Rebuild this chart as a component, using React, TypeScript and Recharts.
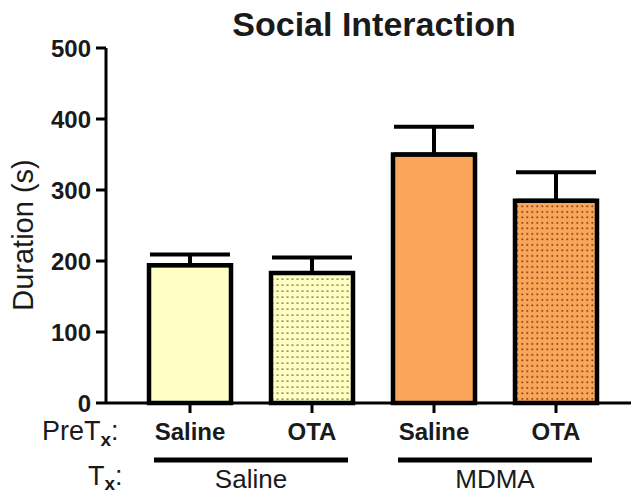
import React from 'react';
import { BarChart, Bar, XAxis, YAxis, ErrorBar, Cell, Customized } from 'recharts';

// Pre-treatment per bar (first x row)
const preTreatments = ['Saline', 'OTA', 'Saline', 'OTA'];
// Treatment per bar (second x row, grouped)
const treatments = ['Saline', 'Saline', 'MDMA', 'MDMA'];
// Mean social interaction duration (s)
const durations = [194, 183, 350, 285];
// SEM (drawn upward only)
const sems = [15, 22, 39, 40];
const yTicks = [0, 100, 200, 300, 400, 500];

const barFills = ['#FFFFC4', 'url(#dotsYellow)', '#F9A65A', 'url(#dotsOrange)'];

const data = preTreatments.map((pre, i) => ({
  pre,
  tx: treatments[i],
  duration: durations[i],
  err: [0, sems[i]],
}));

const FONT = '"Liberation Sans", Arial, Helvetica, sans-serif';
const INK = '#1a1a1a';

const PreTick = (props: any) => {
  const { x, y, payload } = props;
  return (
    <text x={x} y={y + 25} textAnchor="middle" fontFamily={FONT} fontWeight={700} fontSize={24} fill={INK}>
      {payload.value}
    </text>
  );
};

const GroupTick = (props: any) => {
  const { x, y, payload } = props;
  return (
    <g>
      <line x1={x - 97} x2={x + 97} y1={y + 12} y2={y + 12} stroke="#000" strokeWidth={5} />
      <text x={x} y={y + 40} textAnchor="middle" fontFamily={FONT} fontSize={26} fill={INK}>
        {payload.value}
      </text>
    </g>
  );
};

const Decorations = () => (
  <g>
    <defs>
      <pattern id="dotsYellow" width={5} height={6} patternUnits="userSpaceOnUse">
        <rect width={5} height={6} fill="#FFFFC4" />
        <rect x={1.4} y={2.4} width={2.2} height={1.5} fill="#8E8E5E" />
      </pattern>
      <pattern id="dotsOrange" width={5} height={5.5} patternUnits="userSpaceOnUse">
        <rect width={5} height={5.5} fill="#F9A65A" />
        <rect x={1.4} y={2.1} width={1.8} height={1.6} fill="#7E3F14" />
      </pattern>
    </defs>
    <text x={374} y={36} textAnchor="middle" fontFamily={FONT} fontWeight={700} fontSize={34} fill={INK}>
      Social Interaction
    </text>
    <text
      x={33}
      y={235}
      transform="rotate(-90 33 235)"
      textAnchor="middle"
      fontFamily={FONT}
      fontSize={29}
      fill={INK}
    >
      Duration (s)
    </text>
    <text x={42} y={440} fontFamily={FONT} fontSize={27} fill={INK}>
      <tspan>PreT</tspan>
      <tspan fontSize={19} fontWeight={700} dy={6}>x</tspan>
      <tspan dy={-6}>:</tspan>
    </text>
    <text x={88} y={485} fontFamily={FONT} fontSize={27} fill={INK}>
      <tspan>T</tspan>
      <tspan fontSize={19} fontWeight={700} dy={5}>x</tspan>
      <tspan dy={-5}>:</tspan>
    </text>
  </g>
);

export default function App() {
  return (
    <div style={{ position: 'absolute', left: 0, top: 0, width: 631, height: 495, background: '#fff' }}>
      <BarChart width={631} height={495} data={data} margin={{ top: 48, right: 0, bottom: 0, left: 0 }}>
        <Customized component={<Decorations />} />
        <XAxis
          xAxisId="pre"
          dataKey="pre"
          interval={0}
          height={45}
          padding={{ left: 23, right: 14 }}
          axisLine={{ stroke: '#000', strokeWidth: 3 }}
          tickLine={{ stroke: '#000', strokeWidth: 3 }}
          tickSize={10}
          tickMargin={2}
          tick={<PreTick />}
        />
        <XAxis
          xAxisId="tx"
          dataKey="tx"
          allowDuplicatedCategory={false}
          interval={0}
          height={47}
          padding={{ left: 23, right: 14 }}
          axisLine={false}
          tickLine={false}
          tickSize={0}
          tickMargin={0}
          tick={<GroupTick />}
        />
        <YAxis
          width={106}
          domain={[0, 500]}
          ticks={yTicks}
          interval={0}
          axisLine={{ stroke: '#000', strokeWidth: 3 }}
          tickLine={{ stroke: '#000', strokeWidth: 3 }}
          tickSize={10}
          tickMargin={5}
          tick={{ fontFamily: FONT, fontWeight: 700, fontSize: 24, fill: INK }}
        />
        <Bar
          xAxisId="pre"
          dataKey="duration"
          barSize={82}
          stroke="#000"
          strokeWidth={4.5}
          isAnimationActive={false}
        >
          {data.map((d, i) => (
            <Cell key={i} fill={barFills[i]} />
          ))}
          <ErrorBar dataKey="err" direction="y" width={40} stroke="#000" strokeWidth={4} isAnimationActive={false} />
        </Bar>
      </BarChart>
    </div>
  );
}
